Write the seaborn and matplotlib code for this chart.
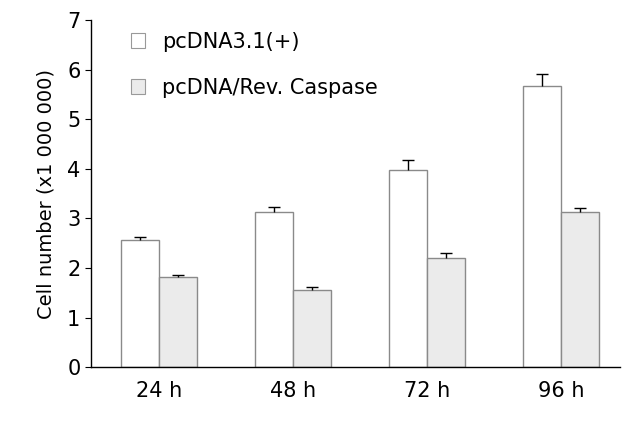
import numpy as np
import pandas as pd
import matplotlib
matplotlib.use("Agg")
import matplotlib.pyplot as plt
import seaborn as sns

# values
times = ["24 h", "48 h", "72 h", "96 h"]
groups = ["pcDNA3.1(+)", "pcDNA/Rev. Caspase"]
ctrl_vals = [2.56, 3.14, 3.97, 5.68]
ctrl_err = [0.06, 0.10, 0.20, 0.24]
casp_vals = [1.81, 1.55, 2.20, 3.12]
casp_err = [0.05, 0.06, 0.10, 0.10]

df = pd.DataFrame({
    "time": times * 2,
    "group": [groups[0]] * 4 + [groups[1]] * 4,
    "value": ctrl_vals + casp_vals,
    "err": ctrl_err + casp_err,
})

sns.set_style("ticks")
plt.rcParams["font.family"] = ["DejaVu Sans"]
for k in ["text.color", "axes.labelcolor", "xtick.color", "ytick.color"]:
    plt.rcParams[k] = "black"

fig = plt.figure(figsize=(6.44, 4.21), dpi=100)
ax = fig.add_axes([0.141, 0.128, 0.822, 0.824])

palette = {groups[0]: "#ffffff", groups[1]: "#ebebeb"}
sns.barplot(data=df, x="time", y="value", hue="group", palette=palette,
            errorbar=None, width=0.57, edgecolor="#8a8a8a", linewidth=1.0,
            saturation=1, ax=ax)

# upper error bars only (stem + top cap)
cap = 0.045
for cont, g in zip(ax.containers, groups):
    sub = df[df["group"] == g]
    xs = np.array([p.get_x() + p.get_width() / 2 for p in cont.patches])
    tops = sub["value"].values + sub["err"].values
    ax.vlines(xs, sub["value"].values, tops, color="black", lw=1)
    ax.hlines(tops, xs - cap, xs + cap, color="black", lw=1)

ax.set_ylim(0, 7)
ax.set_xlim(-0.51, 3.44)
ax.set_yticks(range(8))
ax.set_xlabel("")
ax.set_ylabel("Cell number (x1 000 000)", fontsize=14, labelpad=8)
ax.tick_params(axis="y", labelsize=15, length=4, width=0.8, direction="out")
ax.tick_params(axis="x", labelsize=15, length=0, pad=10)
sns.despine(ax=ax)
for s in ["left", "bottom"]:
    ax.spines[s].set_linewidth(1.0)
    ax.spines[s].set_color("black")

leg = ax.legend(loc="upper left", bbox_to_anchor=(0.04, 1.02), frameon=False,
                fontsize=15, handlelength=0.7, handleheight=0.7,
                labelspacing=1.25, handletextpad=0.8)
for h in leg.legend_handles:
    h.set_edgecolor("#999999")
    h.set_linewidth(0.8)

fig.savefig("out.png", dpi=100)
